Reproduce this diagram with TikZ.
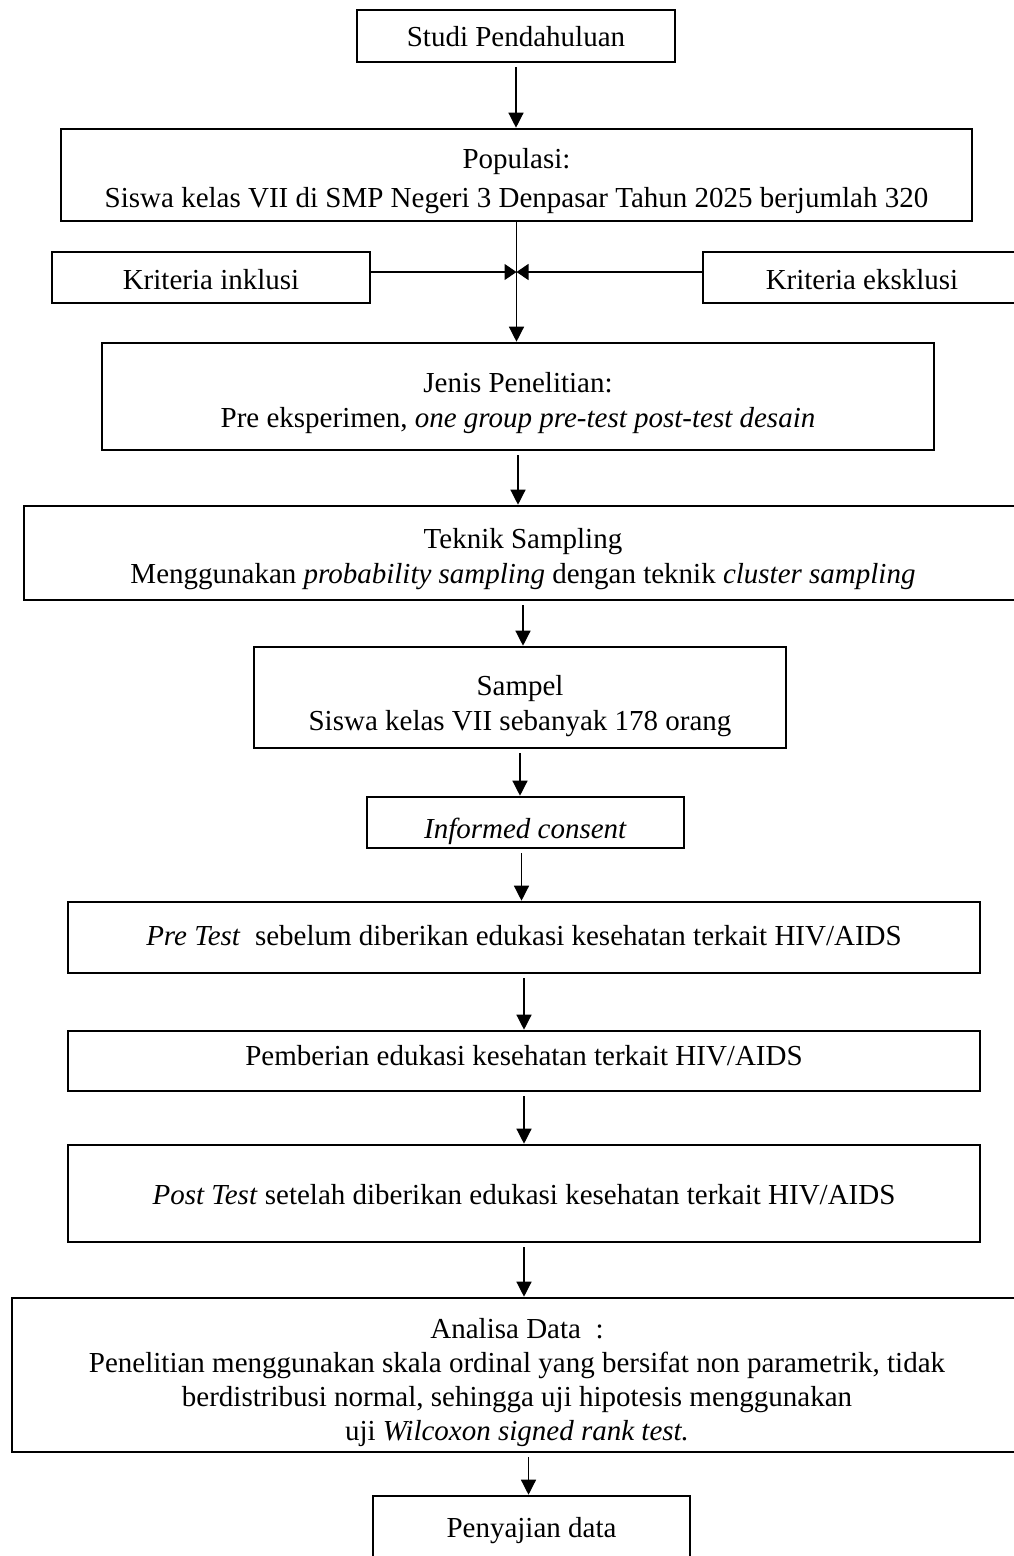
\documentclass[tikz,border=0pt]{standalone}
\usepackage{fontspec}
\setmainfont{Liberation Serif}
\usetikzlibrary{arrows.meta,calc}
\newcommand{\lowtxt}[2]{\raisebox{-#1}[\height][\depth]{\begin{tabular}{@{}c@{}}#2\end{tabular}}}
\begin{document}
\begin{tikzpicture}[x=1pt,y=-1pt,
  box/.style={draw,line width=2.6pt,align=center,inner sep=0pt,
    font=\fontsize{29}{35}\selectfont},
  arr/.style={line width=1.3pt,shorten <=4pt,-{Triangle[length=15pt,width=15pt]}},
  harr/.style={line width=1.3pt,-{Triangle[length=12pt,width=16pt]}}]
\useasboundingbox (0,0) rectangle (1014,1556);
\clip (0,0) rectangle (1014,1556);

\node[box,minimum width=318pt,minimum height=52pt] (studi) at (516,36) {\lowtxt{3pt}{Studi Pendahuluan}};
\node[box,minimum width=911pt,minimum height=92pt] (pop) at (516.5,175)
  {\lowtxt{6pt}{Populasi:\\[4pt]Siswa kelas VII di SMP Negeri 3 Denpasar Tahun 2025 berjumlah 320}};
\node[box,minimum width=318pt,minimum height=51pt] (inkl) at (211,277.5) {\lowtxt{5pt}{Kriteria inklusi}};
\node[box,minimum width=318pt,minimum height=51pt] (ekskl) at (862,277.5) {\lowtxt{5pt}{Kriteria eksklusi}};
\node[box,minimum width=832pt,minimum height=107pt] (jenis) at (518,396.5)
  {\lowtxt{6pt}{Jenis Penelitian:\\Pre eksperimen, \textit{one group pre-test post-test desain}}};
\node[box,minimum width=998pt,minimum height=94pt] (teknik) at (523,553)
  {\lowtxt{6pt}{Teknik Sampling\\Menggunakan \textit{probability sampling} dengan teknik \textit{cluster sampling}}};
\node[box,minimum width=532pt,minimum height=101pt] (sampel) at (520,697.5)
  {\lowtxt{8pt}{Sampel\\Siswa kelas VII sebanyak 178 orang}};
\node[box,minimum width=317pt,minimum height=51pt] (informed) at (525.5,822.5)
  {\lowtxt{9pt}{\textit{Informed consent}}};
\node[box,minimum width=912pt,minimum height=71pt] (pretest) at (524,937.5)
  {\lowtxt{1pt}{\textit{Pre Test}\ \ sebelum diberikan edukasi kesehatan terkait HIV/AIDS}};
\node[box,minimum width=912pt,minimum height=60pt] (pemberian) at (524,1061)
  {\lowtxt{-3pt}{Pemberian edukasi kesehatan terkait HIV/AIDS}};
\node[box,minimum width=912pt,minimum height=97pt] (posttest) at (524,1193.5)
  {\lowtxt{4pt}{\textit{Post Test} setelah diberikan edukasi kesehatan terkait HIV/AIDS}};
\node[box,minimum width=1010pt,minimum height=154pt,font=\fontsize{29}{34}\selectfont] (analisa) at (517,1375)
  {\lowtxt{8pt}{Analisa Data\ \ :\\Penelitian menggunakan skala ordinal yang bersifat non parametrik, tidak\\
   berdistribusi normal, sehingga uji hipotesis menggunakan\\uji \textit{Wilcoxon signed rank test.}}};
\node[box,minimum width=317pt,minimum height=68pt] (penyajian) at (531.5,1530)
  {\lowtxt{0pt}{Penyajian data}};

% connectors
\draw[arr] (studi.south) -- (studi.south |- pop.north);
\coordinate (mid) at (pop.south |- 0,272);
\draw[arr,shorten <=0pt] (pop.south) -- (pop.south |- jenis.north);
\draw[harr] ([yshift=5.5pt]inkl.east) -- (mid);
\draw[harr] ([yshift=5.5pt]ekskl.west) -- (mid);
\draw[arr] (jenis.south) -- (jenis.south |- teknik.north);
\draw[arr] (teknik.south) -- (teknik.south |- sampel.north);
\draw[arr] (sampel.south) -- (sampel.south |- informed.north);
\draw[arr] ([xshift=-4pt]informed.south) -- ([xshift=-4pt]informed.south |- pretest.north);
\draw[arr] (pretest.south) -- (pretest.south |- pemberian.north);
\draw[arr] (pemberian.south) -- (pemberian.south |- posttest.north);
\draw[arr] (posttest.south) -- (posttest.south |- analisa.north);
\draw[arr] ([xshift=-3pt]penyajian.north |- analisa.south) -- ([xshift=-3pt]penyajian.north);
\end{tikzpicture}
\end{document}
